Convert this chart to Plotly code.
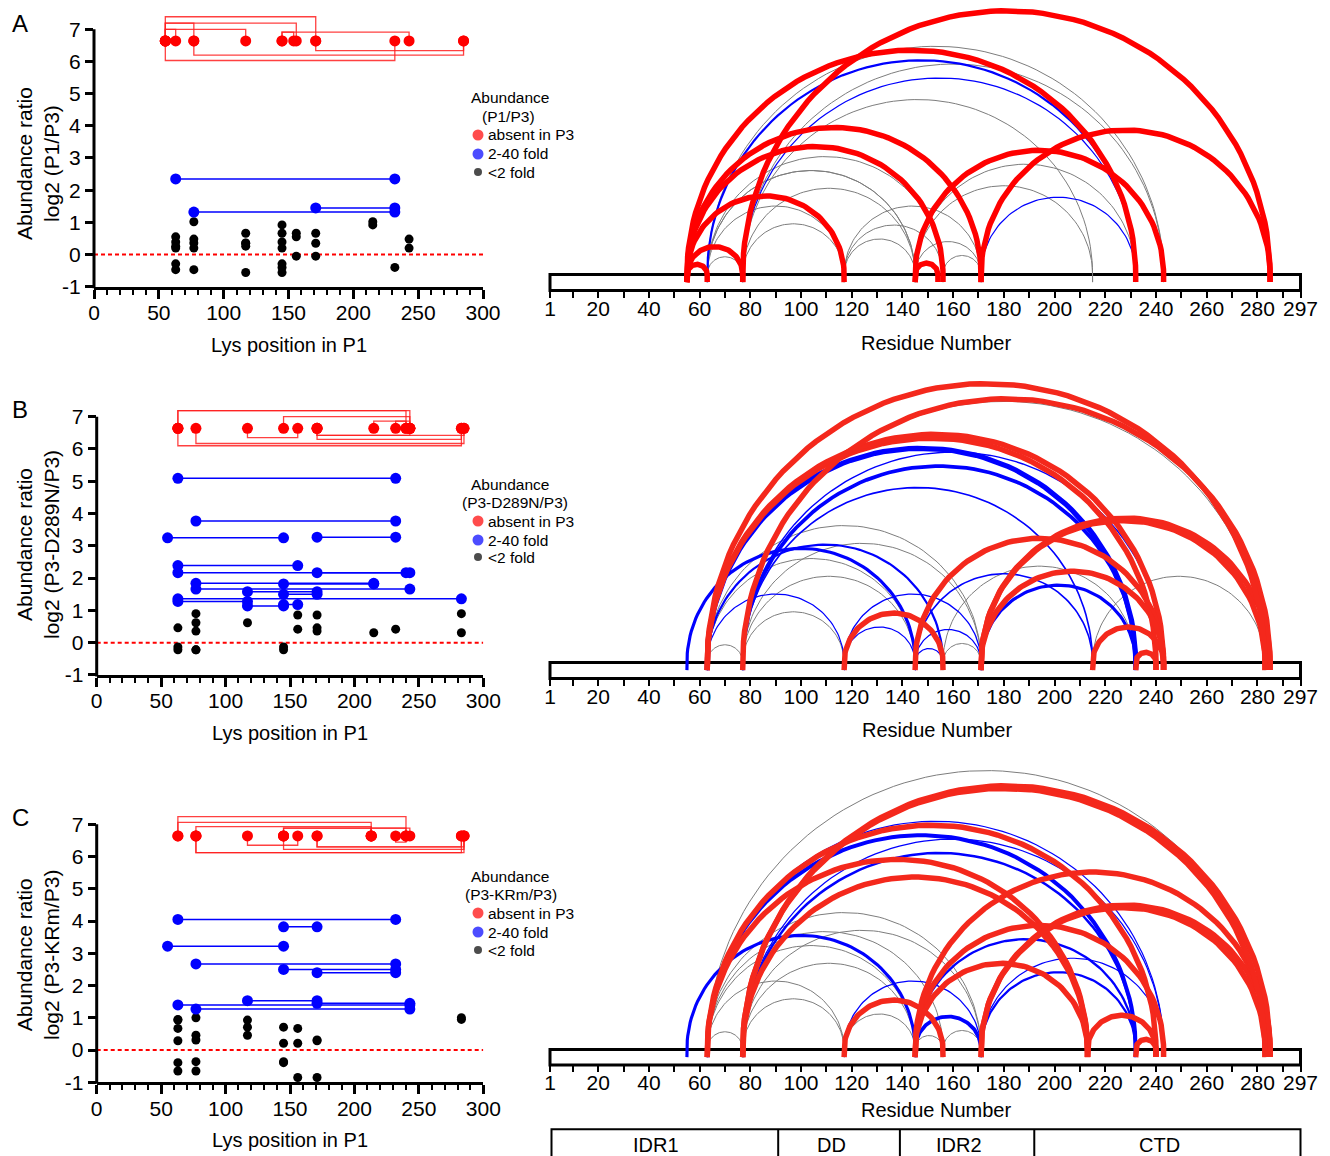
import numpy as np
import plotly.graph_objects as go

W, H = 1330, 1156
FONT = "Liberation Sans, Arial, Helvetica, sans-serif"

# ===================== DATA =====================
ABSENT_LOG2 = 6.64  # value used to plot cross-links absent in P3

# ---- Panel A : P1 / P3
A_red_k1 = [55, 55, 55, 55, 55, 55, 77, 145, 145, 171]
A_red_k2 = [63, 77, 117, 156, 171, 232, 285, 154, 243, 285]
A_blue_k1 = [63, 77, 171]
A_blue_k2 = [232, 232, 232]
A_blue_log2 = [2.35, 1.32, 1.45]
A_black_k1 = [77, 145, 117, 145, 156, 63, 77, 63, 77, 117, 63, 63, 77, 63, 63, 117, 145]
A_black_k2 = [215, 215, 156, 171, 171, 156, 243, 145, 117, 171, 117, 243, 145, 145, 77, 145, 232]
A_black_log2 = [1.02, 0.92, 0.66, 0.66, -0.05, 0.55, 0.48, 0.39, 0.36, 0.35, 0.26, 0.2, 0.2,
                -0.29, -0.47, -0.56, -0.4]

# ---- Panel B : P3-D289N / P3
B_red_k1 = [63, 63, 145, 215, 232, 117, 171, 171, 171, 77, 63]
B_red_k2 = [240, 243, 243, 243, 240, 156, 285, 283, 243, 285, 283]
B_blue_k1 = [63, 77, 55, 171, 63, 63, 171, 77, 145, 77, 117, 145, 63, 63, 117, 145]
B_blue_k2 = [232, 232, 145, 232, 156, 240, 243, 215, 215, 243, 171, 171, 283, 117, 145, 156]
B_blue_log2 = [5.09, 3.77, 3.25, 3.27, 2.39, 2.17, 2.17, 1.84, 1.82, 1.66, 1.58, 1.5, 1.36,
               1.28, 1.14, 1.18]
B_black_k1 = [77, 156, 77, 63, 156, 77, 215, 63, 77, 63]
B_black_k2 = [283, 171, 117, 171, 232, 171, 283, 145, 145, 77]
B_black_log2 = [0.9, 0.86, 0.62, 0.46, 0.42, 0.36, 0.31, -0.13, -0.22, -0.22]

# ---- Panel C : P3-KRm / P3
C_red_k1 = [63, 63, 77, 145, 145, 213, 232, 117, 171, 171, 145, 77, 77]
C_red_k2 = [240, 213, 213, 243, 213, 240, 240, 156, 285, 283, 285, 285, 283]
C_blue_k1 = [63, 145, 55, 77, 145, 171, 117, 171, 63, 77]
C_blue_k2 = [232, 171, 145, 232, 232, 232, 171, 243, 243, 243]
C_blue_log2 = [4.05, 3.82, 3.22, 2.67, 2.5, 2.4, 1.53, 1.45, 1.4, 1.27]
C_black_k1 = [77, 63, 63, 117, 63, 77, 63, 77, 145, 63, 77, 63, 156]
C_black_k2 = [283, 283, 117, 145, 156, 117, 171, 171, 156, 145, 145, 77, 171]
C_black_log2 = [1.0, 0.95, 0.93, 0.71, 0.67, 0.46, 0.29, 0.31, 0.21, -0.39, -0.36, -0.65, -0.85]

# protein domains
DOMAIN_NAMES = ["IDR1", "DD", "IDR2", "CTD"]
DOMAIN_START = [1, 91, 139, 192]
DOMAIN_END = [91, 139, 192, 297]
SEQ_LEN = 297

X_TICKS_LYS = [0, 50, 100, 150, 200, 250, 300]
Y_TICKS_LOG2 = [-1, 0, 1, 2, 3, 4, 5, 6, 7]
RES_TICK_LABELS = [1] + list(range(20, 281, 20)) + [297]

# ===================== STYLE / LAYOUT =====================
# bracket heights (log2 units) used to draw red connectors in the scatter panels
A_bracket = [7.0, 7.19, 7.0, 7.19, 7.39, 6.03, 6.2, 6.91, 6.91, 6.34]
B_bracket = [7.19, 7.19, 7.0, 6.86, 6.86, 6.35, 6.42, 6.3, 6.42, 6.17, 6.1]
C_bracket = [7.24, 7.06, 6.93, 6.88, 6.88, 6.88, 6.45, 6.35, 6.3, 6.3, 6.22, 6.12, 6.12]

RED = "rgb(255,0,0)"
BLUE = "rgb(0,0,255)"
GRAY = "rgb(125,125,125)"

def fx(px):
    return px / W

def fy(py):
    return 1 - py / H

RES_X0, RES_X1 = 550.0, 1300.5
S = (RES_X1 - RES_X0) / (SEQ_LEN - 1)  # px per residue

def res_px(r):
    return RES_X0 + (r - 1) * S

panels = [
    dict(letter="A", letter_y=24, name="P1/P3",
         red=(A_red_k1, A_red_k2, A_bracket),
         blue=(A_blue_k1, A_blue_k2, A_blue_log2),
         black=(A_black_k1, A_black_k2, A_black_log2),
         lx0=94.0, lx1=483.0, ym1=286.7, y7=29.3,
         base=274.5, barbot=290.5, arctop=0.0, arcred="rgb(255,0,0)",
         leg_y=[98, 116.5, 135, 154, 172], leg_sub_x=508,
         ytitle_y=164, xtitle_y=345, rtitle_y=343, rtitle_x=936),
    dict(letter="B", letter_y=409, name="P3-D289N/P3",
         red=(B_red_k1, B_red_k2, B_bracket),
         blue=(B_blue_k1, B_blue_k2, B_blue_log2),
         black=(B_black_k1, B_black_k2, B_black_log2),
         lx0=96.7, lx1=483.3, ym1=675.0, y7=416.7,
         base=662.5, barbot=678.5, arctop=372.0, arcred="rgb(244,40,28)",
         leg_y=[484, 502, 521, 540, 557], leg_sub_x=515,
         ytitle_y=545, xtitle_y=733, rtitle_y=730, rtitle_x=937),
    dict(letter="C", letter_y=817, name="P3-KRm/P3",
         red=(C_red_k1, C_red_k2, C_bracket),
         blue=(C_blue_k1, C_blue_k2, C_blue_log2),
         black=(C_black_k1, C_black_k2, C_black_log2),
         lx0=96.7, lx1=483.3, ym1=1082.3, y7=824.3,
         base=1049.5, barbot=1065.0, arctop=760.0, arcred="rgb(244,40,28)",
         leg_y=[876, 894, 913, 932, 950], leg_sub_x=511,
         ytitle_y=955, xtitle_y=1140, rtitle_y=1110, rtitle_x=936),
]

fig = go.Figure()
layout = dict(width=W, height=H, autosize=False,
              margin=dict(l=0, r=0, t=0, b=0, pad=0),
              paper_bgcolor="white", plot_bgcolor="rgba(0,0,0,0)",
              showlegend=False, font=dict(family=FONT, color="black"),
              template="none")
shapes, annotations = [], []

def arc_xy(k1, k2, stub=3.0, n=80):
    c = (k1 + k2) / 2.0
    r = abs(k2 - k1) / 2.0
    t = np.linspace(np.pi, 0, n)
    xs = [k1] + list(c + r * np.cos(t)) + [k2]
    ys = [-stub] + list(r * np.sin(t)) + [-stub]
    return xs, ys

def blue_width(v):
    return max(1.2, 1.1 * v - 0.4)

for i, p in enumerate(panels):
    li = 2 * i + 1          # left axis index
    ai = 2 * i + 2          # arc axis index
    lx, ly = f"x{li}", f"y{li}"
    ax, ay = f"x{ai}", f"y{ai}"
    unit = (p["ym1"] - p["y7"]) / 8.0
    ytop_val = 7.6
    ytop_px = p["ym1"] - (ytop_val + 1) * unit

    # ---------- left scatter panel ----------
    layout[f"xaxis{li}"] = dict(
        domain=[fx(p["lx0"]), fx(p["lx1"])], range=[0, 300], anchor=ly,
        showline=True, linewidth=3, linecolor="black", showgrid=False, zeroline=False,
        tickmode="array", tickvals=X_TICKS_LYS, ticks="outside", ticklen=9, tickwidth=2.5,
        tickcolor="black", tickfont=dict(size=21, family=FONT), ticklabelstandoff=-4,
        minor=dict(dtick=10, tick0=0, ticks="outside", ticklen=5, tickwidth=2, tickcolor="black"))
    layout[f"yaxis{li}"] = dict(
        domain=[fy(p["ym1"]), fy(ytop_px)], range=[-1, ytop_val], anchor=lx,
        showline=False, showgrid=False, zeroline=False,
        tickmode="array", tickvals=Y_TICKS_LOG2, ticktext=[str(v) for v in Y_TICKS_LOG2],
        ticks="outside", ticklen=8, tickwidth=2.5,
        tickcolor="black", tickfont=dict(size=21, family=FONT))
    # y axis line from -1 to 7
    shapes.append(dict(type="line", xref="paper", yref="paper",
                       x0=fx(p["lx0"]), x1=fx(p["lx0"]),
                       y0=fy(p["ym1"] + 1.5), y1=fy(p["y7"]),
                       line=dict(color="black", width=3)))

    # dashed zero line
    fig.add_trace(go.Scatter(x=[0, 300], y=[0, 0], mode="lines", xaxis=lx, yaxis=ly,
                             line=dict(color="red", width=2, dash="4px,3px"), hoverinfo="skip"))

    rk1, rk2, rlev = p["red"]
    bk1, bk2, bv = p["blue"]
    kk1, kk2, kv = p["black"]

    # red brackets
    bx, by = [], []
    for a, b, lev in zip(rk1, rk2, rlev):
        bx += [a, a, b, b, None]
        by += [ABSENT_LOG2, lev, lev, ABSENT_LOG2, None]
    fig.add_trace(go.Scatter(x=bx, y=by, mode="lines", xaxis=lx, yaxis=ly,
                             line=dict(color="rgba(255,30,30,0.85)", width=1.3), hoverinfo="skip"))
    # blue connectors
    cx, cy = [], []
    for a, b, v in zip(bk1, bk2, bv):
        cx += [a, b, None]
        cy += [v, v, None]
    fig.add_trace(go.Scatter(x=cx, y=cy, mode="lines", xaxis=lx, yaxis=ly,
                             line=dict(color=BLUE, width=1.5), hoverinfo="skip"))
    # points
    fig.add_trace(go.Scatter(x=list(kk1) + list(kk2), y=list(kv) + list(kv), mode="markers",
                             xaxis=lx, yaxis=ly, cliponaxis=False,
                             marker=dict(color="black", size=9, line=dict(width=0))))
    fig.add_trace(go.Scatter(x=list(bk1) + list(bk2), y=list(bv) + list(bv), mode="markers",
                             xaxis=lx, yaxis=ly, cliponaxis=False,
                             marker=dict(color=BLUE, size=11, line=dict(width=0))))
    fig.add_trace(go.Scatter(x=list(rk1) + list(rk2), y=[ABSENT_LOG2] * (2 * len(rk1)),
                             mode="markers", xaxis=lx, yaxis=ly, cliponaxis=False,
                             marker=dict(color=RED, size=11, line=dict(width=0))))

    # ---------- arc panel ----------
    yb = -(p["barbot"] - p["base"]) / S
    yt = (p["base"] - p["arctop"]) / S
    tickvals = list(range(10, 291, 10)) + [1, 297]
    ticktext = [str(v) if v in RES_TICK_LABELS else "" for v in tickvals]
    layout[f"xaxis{ai}"] = dict(
        domain=[fx(RES_X0), fx(RES_X1)], range=[1, SEQ_LEN], anchor=ay,
        showline=False, showgrid=False, zeroline=False,
        tickmode="array", tickvals=tickvals, ticktext=ticktext,
        ticks="outside", ticklen=6, tickwidth=2, tickcolor="black", ticklabelstandoff=-7,
        tickfont=dict(size=21, family=FONT))
    layout[f"yaxis{ai}"] = dict(domain=[fy(p["barbot"]), fy(p["arctop"])], range=[yb, yt],
                                anchor=ax, visible=False, showgrid=False, zeroline=False)
    # sequence bar
    shapes.append(dict(type="rect", xref="paper", yref="paper", layer="below",
                       x0=fx(res_px(1)), x1=fx(res_px(SEQ_LEN)),
                       y0=fy(p["barbot"]), y1=fy(p["base"]),
                       fillcolor="white", line=dict(color="black", width=3)))

    # gray arcs (<2 fold)
    gx, gy = [], []
    for a, b in zip(kk1, kk2):
        xs, ys = arc_xy(a, b)
        gx += xs + [None]
        gy += ys + [None]
    fig.add_trace(go.Scatter(x=gx, y=gy, mode="lines", xaxis=ax, yaxis=ay,
                             line=dict(color=GRAY, width=1), hoverinfo="skip"))
    # blue arcs (2-40 fold), width by ratio
    for a, b, v in zip(bk1, bk2, bv):
        xs, ys = arc_xy(a, b)
        fig.add_trace(go.Scatter(x=xs, y=ys, mode="lines", xaxis=ax, yaxis=ay,
                                 line=dict(color=BLUE, width=blue_width(v)), hoverinfo="skip"))
    # red arcs (absent in P3)
    rx, ry = [], []
    for a, b in zip(rk1, rk2):
        xs, ys = arc_xy(a, b)
        rx += xs + [None]
        ry += ys + [None]
    fig.add_trace(go.Scatter(x=rx, y=ry, mode="lines", xaxis=ax, yaxis=ay,
                             line=dict(color=p["arcred"], width=5.5), hoverinfo="skip"))

    # ---------- texts ----------
    annotations.append(dict(text=p["letter"], x=fx(20), y=fy(p["letter_y"]), xref="paper",
                            yref="paper", showarrow=False, font=dict(size=24),
                            xanchor="center", yanchor="middle"))
    annotations.append(dict(text=f"Abundance ratio<br>log2 ({p['name']})", x=fx(38),
                            y=fy(p["ytitle_y"]), xref="paper", yref="paper", showarrow=False,
                            textangle=-90, font=dict(size=21), xanchor="center",
                            yanchor="middle"))
    annotations.append(dict(text="Lys position in P1", x=fx((p["lx0"] + p["lx1"]) / 2),
                            y=fy(p["xtitle_y"]), xref="paper", yref="paper", showarrow=False,
                            font=dict(size=20), xanchor="center", yanchor="middle"))
    annotations.append(dict(text="Residue Number", x=fx(p["rtitle_x"]), y=fy(p["rtitle_y"]),
                            xref="paper", yref="paper", showarrow=False, font=dict(size=20),
                            xanchor="center", yanchor="middle"))
    # legend
    ly_ = p["leg_y"]
    annotations.append(dict(text="Abundance", x=fx(510), y=fy(ly_[0]), xref="paper",
                            yref="paper", showarrow=False, font=dict(size=15.5),
                            xanchor="center", yanchor="middle"))
    annotations.append(dict(text=f"({p['name']})", x=fx(p["leg_sub_x"]), y=fy(ly_[1]),
                            xref="paper", yref="paper", showarrow=False, font=dict(size=15.5),
                            xanchor="center", yanchor="middle"))
    for txt, yy in zip(["absent in P3", "2-40 fold", "&lt;2 fold"], ly_[2:]):
        annotations.append(dict(text=txt, x=fx(486), y=fy(yy), xref="paper", yref="paper",
                                showarrow=False, font=dict(size=15.5), xanchor="left",
                                yanchor="middle"))
    fig.add_trace(go.Scatter(x=[478, 478, 478], y=ly_[2:], mode="markers", xaxis="x7",
                             yaxis="y7", cliponaxis=False,
                             marker=dict(color=[RED, BLUE, "black"], size=[11, 11, 8],
                                         line=dict(width=0)), hoverinfo="skip"))

# overlay axis in pixel units (legend glyphs)
layout["xaxis7"] = dict(domain=[0, 1], range=[0, W], anchor="y7", visible=False)
layout["yaxis7"] = dict(domain=[0, 1], range=[H, 0], anchor="x7", visible=False)

# domain boxes under panel C
dtop, dbot = 1129.3, 1170.0
shapes.append(dict(type="rect", xref="paper", yref="paper",
                   x0=fx(res_px(DOMAIN_START[0]) + 1.5), x1=fx(res_px(DOMAIN_END[-1])),
                   y0=fy(dbot), y1=fy(dtop), line=dict(color="black", width=2),
                   fillcolor="rgba(0,0,0,0)"))
for s, e, nm in zip(DOMAIN_START, DOMAIN_END, DOMAIN_NAMES):
    if s != DOMAIN_START[0]:
        shapes.append(dict(type="line", xref="paper", yref="paper",
                           x0=fx(res_px(s)), x1=fx(res_px(s)), y0=fy(dbot), y1=fy(dtop),
                           line=dict(color="black", width=2)))
    annotations.append(dict(text=nm, x=fx((res_px(s) + res_px(e)) / 2 - 8), y=fy(1145),
                            xref="paper", yref="paper", showarrow=False, font=dict(size=20),
                            xanchor="center", yanchor="middle"))

layout["shapes"] = shapes
layout["annotations"] = annotations
fig.update_layout(**layout)
fig.write_html("out.html")
